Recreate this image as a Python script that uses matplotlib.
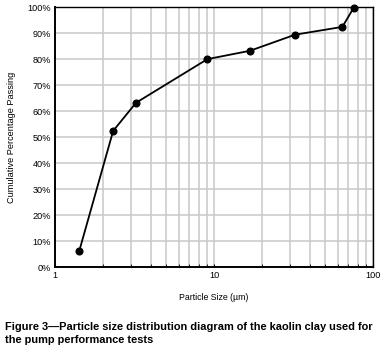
import matplotlib.pyplot as plt
from matplotlib.ticker import FixedLocator, NullFormatter, FuncFormatter

plt.rcParams['font.family'] = ['Liberation Sans', 'DejaVu Sans']

# particle size (um) and cumulative passing (%)
sizes = [1.42, 2.32, 3.23, 9.08, 16.8, 32.3, 64.1, 75.6]
passing = [6.2, 52.4, 63.2, 80.0, 83.2, 89.4, 92.4, 99.8]

x_ticks = [1, 10, 100]
y_ticks = list(range(0, 101, 10))

fig = plt.figure(figsize=(3.85, 3.57), dpi=100)
ax = fig.add_axes([0.143, 0.252, 0.826, 0.728])

ax.plot(sizes, passing, color='black', lw=1.3, marker='o', ms=4.8, zorder=3, clip_on=False)

ax.set_xscale('log')
ax.set_xlim(1, 100)
ax.set_ylim(0, 100)
ax.xaxis.set_major_locator(FixedLocator(x_ticks))
ax.xaxis.set_major_formatter(FuncFormatter(lambda v, p: f'{v:g}'))
minor = [m * d for d in (1, 10) for m in range(2, 10)]
ax.xaxis.set_minor_locator(FixedLocator(minor))
ax.xaxis.set_minor_formatter(NullFormatter())
ax.set_yticks(y_ticks)
ax.set_yticklabels([f'{v}%' for v in y_ticks])

ax.grid(which='both', axis='x', color='#c8c8c8', lw=1.1)
ax.grid(which='major', axis='y', color='#c8c8c8', lw=1.1)
ax.set_axisbelow(True)

for s in ax.spines.values():
    s.set_linewidth(1.0)
ax.spines['left'].set_linewidth(1.4)
ax.spines['bottom'].set_linewidth(1.4)

ax.tick_params(axis='both', which='both', labelsize=6.6, colors='black', direction='in', length=2, pad=3)
ax.tick_params(axis='y', length=0)
ax.tick_params(axis='x', which='minor', length=2)

ax.set_xlabel('Particle Size (µm)', fontsize=6.3, labelpad=9)
ax.set_ylabel('Cumulative Percentage Passing', fontsize=6.6, labelpad=8)

fig.text(0.013, 0.066, 'Figure 3\u2014Particle size distribution diagram of the kaolin clay used for\nthe pump performance tests',
         fontsize=7.95, fontweight='bold', va='center', ha='left', linespacing=1.4)

fig.savefig('out.png', dpi=100)
